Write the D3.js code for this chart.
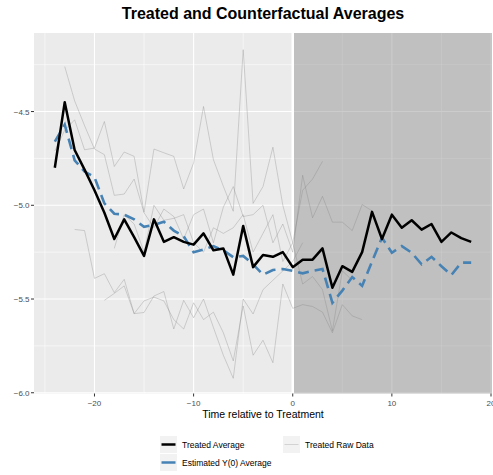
<!DOCTYPE html>
<html>
<head>
<meta charset="utf-8">
<script src="https://cdn.jsdelivr.net/npm/d3@7"></script>
<style>
body{margin:0;background:#fff;}
svg text{font-family:"Liberation Sans",Arial,sans-serif;}
</style>
</head>
<body>
<div id="chart"></div>
<script>
// time relative to treatment
var times=d3.range(-24,19);
// treated average and estimated Y(0) average, one value per time
var treatedAvg=[-4.80,-4.45,-4.705,-4.81,-4.92,-5.04,-5.18,-5.075,-5.17,-5.27,-5.075,-5.195,-5.17,-5.195,-5.21,-5.15,-5.24,-5.23,-5.37,-5.11,-5.33,-5.265,-5.275,-5.25,-5.33,-5.29,-5.29,-5.23,-5.44,-5.325,-5.355,-5.25,-5.035,-5.18,-5.05,-5.12,-5.08,-5.13,-5.10,-5.195,-5.145,-5.175,-5.195];
var estY0Avg=[-4.66,-4.57,-4.76,-4.82,-4.85,-4.99,-5.045,-5.05,-5.075,-5.115,-5.105,-5.088,-5.135,-5.165,-5.25,-5.236,-5.218,-5.24,-5.277,-5.27,-5.315,-5.37,-5.345,-5.34,-5.35,-5.363,-5.35,-5.34,-5.52,-5.455,-5.383,-5.43,-5.30,-5.173,-5.253,-5.218,-5.253,-5.315,-5.275,-5.325,-5.372,-5.306,-5.306];
// raw treated units: first period + values
var rawStart=[-23,-24,-22,-19,-18];
var rawValues=[
	[-4.26,-4.443,-4.575,-4.70,-4.73,-4.947,-4.94,-4.86,-5.04,-5.12,-5.02,-5.06,-5.18,-5.05,-5.02,-5.20,-5.01,-4.90,-5.06,-5.05,-5.00,-5.20,-5.10,-5.25,-4.84,-5.067,-4.952,-5.09,-5.09,-5.135,-4.996,-5.03],
	[-4.71,-4.60,-4.544,-4.704,-4.695,-4.553,-4.793,-4.716,-4.739,-5.037,-4.70,-4.72,-4.739,-4.913,-4.774,-4.473,-4.757,-4.899,-5.032,-4.17,-4.99,-4.90,-4.69,-5.00,-5.20,-4.92,-4.86,-4.766],
	[-5.129,-5.135,-5.39,-5.365,-5.466,-5.395,-5.578,-5.572,-5.484,-5.46,-5.66,-5.507,-5.60,-5.50,-5.652,-5.80,-5.923,-5.50,-5.58,-5.45,-5.40,-5.35,-5.30,-5.20],
	[-5.507,-5.47,-5.43,-5.578,-5.51,-5.49,-5.51,-5.61,-5.66,-5.52,-5.61,-5.57,-5.68,-5.83,-5.537,-5.80,-5.72,-5.84,-5.42,-5.55,-5.53,-5.54,-5.57,-5.68,-5.53,-5.59,-5.61],
	[-5.23,-5.05,-5.10,-5.25,-5.00,-5.08,-5.07,-5.05,-5.20,-5.25,-5.12,-5.15,-5.12,-5.05,-5.25,-5.15,-5.05,-5.30,-5.20,-5.42,-5.38,-5.45,-5.67,-5.35,-5.40]
];
var xTicks=[-20,-10,0,10,20];
var xMinor=[-25,-15,-5,5,15];
var yTicks=[-6.0,-5.5,-5.0,-4.5];
var yMinor=[-5.75,-5.25,-4.75,-4.25];
var legendLabels=["Treated Average","Treated Raw Data","Estimated Y(0) Average"];

var width=493,height=475;
var pLeft=34,pRight=492,pTop=33,pBottom=393.5;

var svg=d3.select("#chart").append("svg")
	.attr("width",width)
	.attr("height",height);

var x=d3.scaleLinear().domain([-26.1,20.1]).range([pLeft,pRight]);
var y=d3.scaleLinear().domain([-6.004,-4.081]).range([pBottom,pTop]);

// panel
svg.append("rect")
	.attr("x",pLeft).attr("y",pTop)
	.attr("width",pRight-pLeft).attr("height",pBottom-pTop)
	.attr("fill","#ebebeb");

var grid=svg.append("g");
grid.selectAll(".ymin").data(yMinor).enter().append("line")
	.attr("x1",pLeft).attr("x2",pRight)
	.attr("y1",function(d){return y(d);}).attr("y2",function(d){return y(d);})
	.attr("stroke","#fff").attr("stroke-width",0.55);
grid.selectAll(".xmin").data(xMinor).enter().append("line")
	.attr("y1",pTop).attr("y2",pBottom)
	.attr("x1",function(d){return x(d);}).attr("x2",function(d){return x(d);})
	.attr("stroke","#fff").attr("stroke-width",0.55);
grid.selectAll(".ymaj").data(yTicks).enter().append("line")
	.attr("x1",pLeft).attr("x2",pRight)
	.attr("y1",function(d){return y(d);}).attr("y2",function(d){return y(d);})
	.attr("stroke","#fff").attr("stroke-width",1.1);
grid.selectAll(".xmaj").data(xTicks).enter().append("line")
	.attr("y1",pTop).attr("y2",pBottom)
	.attr("x1",function(d){return x(d);}).attr("x2",function(d){return x(d);})
	.attr("stroke","#fff").attr("stroke-width",1.1);

// post-treatment shading
svg.append("rect")
	.attr("x",x(0)).attr("y",pTop)
	.attr("width",pRight-x(0)).attr("height",pBottom-pTop)
	.attr("fill","#7f7f7f").attr("opacity",0.4);

svg.append("line")
	.attr("x1",x(0)).attr("x2",x(0))
	.attr("y1",pTop).attr("y2",pBottom)
	.attr("stroke","#fff").attr("stroke-width",2.5);

var line=d3.line()
	.x(function(d){return x(d[0]);})
	.y(function(d){return y(d[1]);});

var rawSeries=rawValues.map(function(vals,k){
	return vals.map(function(v,i){return [rawStart[k]+i,v];});
});
svg.append("g").selectAll("path")
	.data(rawSeries).enter().append("path")
	.attr("d",line)
	.attr("fill","none")
	.attr("stroke","#7f7f7f")
	.attr("stroke-opacity",0.35)
	.attr("stroke-width",0.9);

svg.append("path")
	.datum(times.map(function(t,i){return [t,estY0Avg[i]];}))
	.attr("d",line)
	.attr("fill","none")
	.attr("stroke","steelblue")
	.attr("stroke-width",2.6)
	.attr("stroke-dasharray","11,6");

svg.append("path")
	.datum(times.map(function(t,i){return [t,treatedAvg[i]];}))
	.attr("d",line)
	.attr("fill","none")
	.attr("stroke","#000")
	.attr("stroke-width",2.5)
	.attr("stroke-linejoin","round");

// axes
var fmtY=d3.format(".1f");
var yAxis=svg.append("g");
yAxis.selectAll("line").data(yTicks).enter().append("line")
	.attr("x1",pLeft-3).attr("x2",pLeft)
	.attr("y1",function(d){return y(d);}).attr("y2",function(d){return y(d);})
	.attr("stroke","#333").attr("stroke-width",1);
yAxis.selectAll("text").data(yTicks).enter().append("text")
	.attr("x",pLeft-4.5)
	.attr("y",function(d){return y(d)+3;})
	.attr("text-anchor","end")
	.attr("font-size","8px")
	.attr("fill","#4d4d4d")
	.text(function(d){return fmtY(d);});

var fmtX=d3.format("d");
var xAxis=svg.append("g");
xAxis.selectAll("line").data(xTicks).enter().append("line")
	.attr("y1",pBottom).attr("y2",pBottom+3)
	.attr("x1",function(d){return x(d);}).attr("x2",function(d){return x(d);})
	.attr("stroke","#333").attr("stroke-width",1);
xAxis.selectAll("text").data(xTicks).enter().append("text")
	.attr("x",function(d){return x(d);})
	.attr("y",pBottom+12)
	.attr("text-anchor","middle")
	.attr("font-size","8px")
	.attr("fill","#4d4d4d")
	.text(function(d){return fmtX(d);});

svg.append("text")
	.attr("x",(pLeft+pRight)/2).attr("y",418)
	.attr("text-anchor","middle")
	.attr("font-size","10.5px")
	.attr("fill","#000")
	.text("Time relative to Treatment");

svg.append("text")
	.attr("x",(pLeft+pRight)/2).attr("y",19)
	.attr("text-anchor","middle")
	.attr("font-size","16px")
	.attr("font-weight","bold")
	.attr("fill","#000")
	.text("Treated and Counterfactual Averages");

// legend
var legendItems=[
	{lab:legendLabels[0],kx:160,ky:436,col:"#000",w:2.5},
	{lab:legendLabels[1],kx:283,ky:436,col:"#d3d3d3",w:1},
	{lab:legendLabels[2],kx:160,ky:454,col:"steelblue",w:2.5}
];
var lg=svg.append("g").selectAll("g").data(legendItems).enter().append("g")
	.attr("transform",function(d){return "translate("+d.kx+","+d.ky+")";});
lg.append("rect")
	.attr("width",17).attr("height",17)
	.attr("fill","#f2f2f2");
lg.append("line")
	.attr("x1",1.5).attr("x2",15.5)
	.attr("y1",8.5).attr("y2",8.5)
	.attr("stroke",function(d){return d.col;})
	.attr("stroke-width",function(d){return d.w;});
lg.append("text")
	.attr("x",22).attr("y",11.5)
	.attr("font-size","8.5px")
	.attr("fill","#000")
	.text(function(d){return d.lab;});
</script>
</body>
</html>
